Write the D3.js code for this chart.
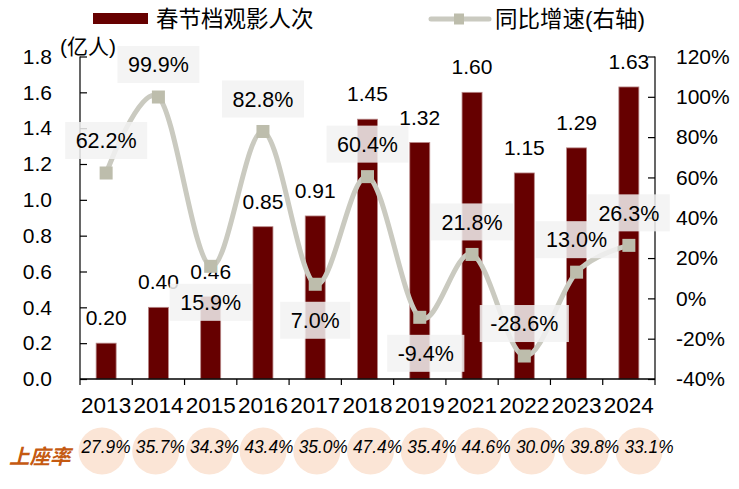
<!DOCTYPE html>
<html><head><meta charset="utf-8">
<script src="https://cdn.jsdelivr.net/npm/d3@7"></script>
<style>
html,body{margin:0;padding:0;background:#fff;}
svg{display:block;font-family:"Liberation Sans",Arial,"Noto Sans CJK SC",sans-serif;}
</style></head>
<body><svg id="c" width="739" height="489"></svg>
<script>
const years = ["2013","2014","2015","2016","2017","2018","2019","2021","2022","2023","2024"];
const audience = [0.20,0.40,0.46,0.85,0.91,1.45,1.32,1.60,1.15,1.29,1.63];
const growth = [62.2,99.9,15.9,82.8,7.0,60.4,-9.4,21.8,-28.6,13.0,26.3];
const growthLabelSide = ["above","above","below","above","below","above","below","above","above","above","above"];
const occupancy = [27.9,35.7,34.3,43.4,35.0,47.4,35.4,44.6,30.0,39.8,33.1];
const leftTicks = [0,0.2,0.4,0.6,0.8,1.0,1.2,1.4,1.6,1.8];
const rightTicks = [-40,-20,0,20,40,60,80,100,120];
const legendNames = ["春节档观影人次","同比增速(右轴)"];
const unitLabel = "(亿人)";
const rowLabel = "上座率";

const svg = d3.select("#c");
const L = 80, R = 655, T = 56.5, B = 379;
const x = d3.scaleBand().domain(years).range([L, R]).paddingInner(0).paddingOuter(0);
const yL = d3.scaleLinear().domain([0, 1.8]).range([B, T]);
const yR = d3.scaleLinear().domain([-40, 120]).range([B, T]);
const cx = d => x(d) + x.bandwidth() / 2;

const barColor = "#660000", lineColor = "#CACAC0", markerColor = "#BDBDAC";

// axes
const gL = svg.append("g").attr("transform", `translate(${L},0)`)
  .call(d3.axisLeft(yL).tickValues(leftTicks).tickFormat(d3.format(".1f")).tickSize(-7).tickSizeOuter(0).tickPadding(28));
const gR = svg.append("g").attr("transform", `translate(${R},0)`)
  .call(d3.axisRight(yR).tickValues(rightTicks).tickFormat(d => d + "%").tickSize(-7).tickSizeOuter(0).tickPadding(21));
[gL, gR].forEach(g => {
  g.selectAll("text").attr("font-size", 21).attr("fill", "#000").attr("font-family", "Liberation Sans, Arial");
  g.selectAll("line,path").attr("stroke", "#000").attr("stroke-width", 1.2);
});
gL.select(".domain").remove();
gR.select(".domain").remove();
svg.append("line").attr("x1", L).attr("x2", L).attr("y1", yL(1.8)).attr("y2", B).attr("stroke", "#000").attr("stroke-width", 1.2);
svg.append("line").attr("x1", R).attr("x2", R).attr("y1", yR(120)).attr("y2", B).attr("stroke", "#000").attr("stroke-width", 1.2);

// bars
const bw = 20;
svg.append("g").selectAll("rect").data(years).join("rect")
  .attr("x", d => cx(d) - bw / 2).attr("width", bw)
  .attr("y", (d, i) => yL(audience[i])).attr("height", (d, i) => B - yL(audience[i]))
  .attr("fill", barColor).attr("stroke", "#B98888").attr("stroke-width", 0.8);

// bottom axis
svg.append("line").attr("x1", L).attr("x2", R).attr("y1", B).attr("y2", B).attr("stroke", "#000").attr("stroke-width", 1.5);
const bounds = years.map(d => x(d)).concat([R]);
svg.append("g").selectAll("line").data(bounds).join("line")
  .attr("x1", d => d).attr("x2", d => d).attr("y1", B).attr("y2", B + 6).attr("stroke", "#000").attr("stroke-width", 1.2);
svg.append("g").selectAll("text").data(years).join("text")
  .attr("x", d => cx(d)).attr("y", 413).attr("text-anchor", "middle")
  .attr("font-size", 22.5).attr("fill", "#000").text(d => d);

// bar labels
svg.append("g").selectAll("text").data(years).join("text")
  .attr("x", d => cx(d)).attr("y", (d, i) => yL(audience[i]) - 18).attr("text-anchor", "middle")
  .attr("font-size", 21).attr("fill", "#000").text((d, i) => audience[i].toFixed(2));

// growth line
const pts = years.map((d, i) => [cx(d), yR(growth[i])]);
svg.append("path").attr("d", d3.line().curve(d3.curveCardinal.tension(0))(pts))
  .attr("fill", "none").attr("stroke", lineColor).attr("stroke-width", 5);
const ms = 13;
svg.append("g").selectAll("rect").data(pts).join("rect")
  .attr("x", d => d[0] - ms / 2).attr("y", d => d[1] - ms / 2).attr("width", ms).attr("height", ms)
  .attr("fill", markerColor);

// growth labels
const gl = svg.append("g");
years.forEach((d, i) => {
  const below = growthLabelSide[i] === "below";
  const yc = yR(growth[i]) + (below ? 36 : -32.5);
  const xcn = cx(d) + (below && growth[i] < 0 ? 6 : 0);
  const g = gl.append("g");
  const t = g.append("text").attr("x", xcn).attr("y", yc).attr("dy", "0.36em")
    .attr("text-anchor", "middle").attr("font-size", 21.5).attr("fill", "#000")
    .text(growth[i].toFixed(1) + "%");
  const w = t.node().getComputedTextLength() + 21;
  g.insert("rect", "text").attr("x", xcn - w / 2).attr("y", yc - 18.5).attr("width", w).attr("height", 37)
    .attr("fill", "#F2F2F2").attr("fill-opacity", 0.85);
});

// unit label
svg.append("text").attr("x", 60).attr("y", 46).attr("dy", "0.36em").attr("font-size", 21).attr("fill", "#000").text(unitLabel);

// legend
svg.append("rect").attr("x", 93).attr("y", 13).attr("width", 55).attr("height", 11).attr("fill", barColor);
svg.append("text").attr("x", 156).attr("y", 19).attr("dy", "0.36em").attr("font-size", 22.5).attr("fill", "#000").text(legendNames[0]);
svg.append("line").attr("x1", 431).attr("x2", 489).attr("y1", 19).attr("y2", 19).attr("stroke", lineColor).attr("stroke-width", 5).attr("stroke-linecap", "round");
svg.append("rect").attr("x", 454).attr("y", 13.5).attr("width", 10).attr("height", 11).attr("fill", markerColor);
svg.append("text").attr("x", 495).attr("y", 19).attr("dy", "0.36em").attr("font-size", 22.5).attr("fill", "#000").text(legendNames[1]);

// occupancy row
const xc = d3.scalePoint().domain(years).range([102, 639]);
const xt = d3.scalePoint().domain(years).range([106, 649]);
svg.append("g").selectAll("circle").data(years).join("circle")
  .attr("cx", d => xc(d)).attr("cy", 451).attr("r", 23.5).attr("fill", "#FBE5D6");
svg.append("g").selectAll("text").data(years).join("text")
  .attr("x", d => xt(d)).attr("y", 453).attr("text-anchor", "middle")
  .attr("font-size", 17.5).attr("font-style", "italic").attr("fill", "#000")
  .attr("textLength", 49).attr("lengthAdjust", "spacingAndGlyphs")
  .text((d, i) => occupancy[i].toFixed(1) + "%");
svg.append("text").attr("x", 9).attr("y", 457).attr("dy", "0.36em").attr("font-size", 20.5)
  .attr("font-style", "italic").attr("font-weight", "bold").attr("fill", "#C55A11").text(rowLabel);
</script></body></html>
